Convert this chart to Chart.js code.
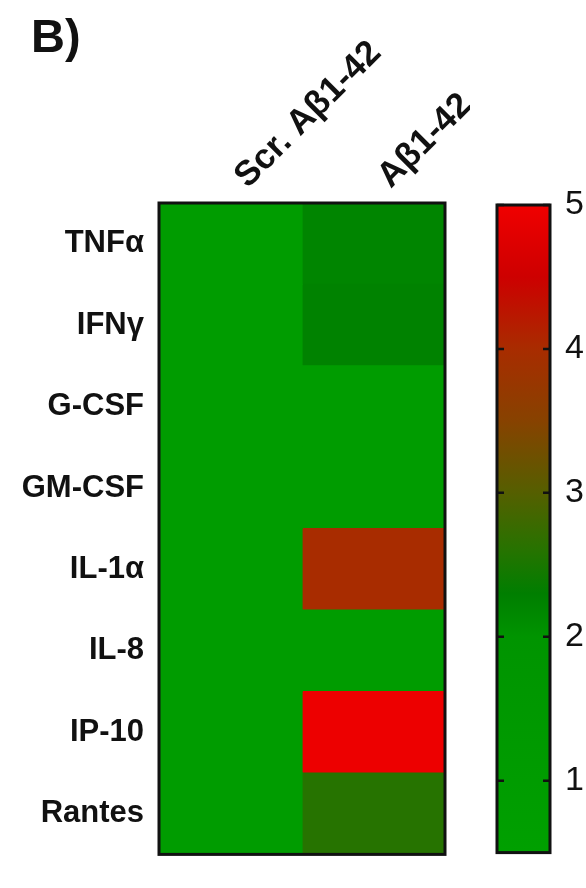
<!DOCTYPE html>
<html>
<head>
<meta charset="utf-8">
<script src="https://cdn.jsdelivr.net/npm/chart.js@4.4.1/dist/chart.umd.min.js"></script>
<style>
  body { margin: 0; background: #fff; }
  #wrap { position: relative; width: 586px; height: 888px; overflow: hidden; }
  #heat { position: absolute; left: 0; top: 0; }
  #bar { position: absolute; left: 480px; top: 0; }
  #panel { position: absolute; left: 31px; top: 8px; font: bold 47px "Liberation Sans", Arial, sans-serif; color: #111; }
</style>
</head>
<body>
<div id="wrap">
  <canvas id="heat" width="470" height="888"></canvas>
  <canvas id="bar" width="106" height="888"></canvas>
  <div id="panel">B)</div>
</div>
<script>
// cytokine rows, top to bottom
const cytokines = ['TNFα', 'IFNγ', 'G-CSF', 'GM-CSF', 'IL-1α', 'IL-8', 'IP-10', 'Rantes'];
const groups = ['Scr. Aβ1-42', 'Aβ1-42'];
const scrValues = [1, 1, 1, 1, 1, 1, 1, 1];
const abValues = [2.2, 2.25, 1, 1, 4.0, 1, 4.95, 2.6];
const scaleMin = 0.5;
const scaleMax = 5;
const scaleTicks = [1, 2, 3, 4, 5];

// green -> olive -> red colour map
const cmap = [
  [0.5, [0, 160, 0]],
  [2.0, [0, 148, 0]],
  [2.3, [0, 126, 0]],
  [2.6, [38, 115, 0]],
  [3.0, [85, 95, 0]],
  [3.5, [135, 66, 0]],
  [4.0, [168, 44, 0]],
  [4.5, [205, 0, 0]],
  [5.0, [240, 0, 0]]
];

function colorFor(v) {
  if (v <= cmap[0][0]) return 'rgb(' + cmap[0][1].join(',') + ')';
  for (let i = 1; i < cmap.length; i++) {
    if (v <= cmap[i][0]) {
      const [v0, c0] = cmap[i - 1];
      const [v1, c1] = cmap[i];
      const t = (v - v0) / (v1 - v0);
      const c = c0.map((a, k) => Math.round(a + (c1[k] - a) * t));
      return 'rgb(' + c.join(',') + ')';
    }
  }
  return 'rgb(' + cmap[cmap.length - 1][1].join(',') + ')';
}

const FONT = '"Liberation Sans", Arial, sans-serif';

const frame = {
  id: 'frame',
  afterDatasetsDraw(chart) {
    const a = chart.chartArea;
    const ctx = chart.ctx;
    ctx.save();
    ctx.strokeStyle = '#111';
    ctx.lineWidth = 3;
    ctx.strokeRect(a.left, a.top, a.right - a.left, a.bottom - a.top);
    ctx.restore();
  }
};

const columns = [scrValues, abValues];

new Chart(document.getElementById('heat'), {
  type: 'bar',
  data: {
    labels: cytokines,
    datasets: columns.map((vals, c) => ({
      label: groups[c],
      data: vals.map(() => [c, c + 1]),
      backgroundColor: vals.map(colorFor),
      borderWidth: 0,
      inflateAmount: 0.6,
      grouped: false,
      barPercentage: 1,
      categoryPercentage: 1
    }))
  },
  options: {
    indexAxis: 'y',
    responsive: false,
    animation: false,
    layout: { padding: { right: 25, bottom: 2, left: 0, top: 0 } },
    plugins: { legend: { display: false }, tooltip: { enabled: false } },
    scales: {
      x: { type: 'linear', min: 0, max: 2, display: false },
      xTop: {
        type: 'category',
        labels: groups,
        position: 'top',
        offset: true,
        grid: { display: false, drawTicks: false },
        border: { display: false },
        ticks: {
          minRotation: 45, maxRotation: 45, padding: 6, labelOffset: 40,
          color: '#111', font: { family: FONT, size: 35, weight: 'bold' }
        },
        afterFit(s) { s.height = 203; }
      },
      y: {
        grid: { display: false, drawTicks: false },
        border: { display: false },
        ticks: { padding: 15, color: '#111', font: { family: FONT, size: 31, weight: 'bold' } },
        afterFit(s) { s.width = 159; }
      }
    }
  },
  plugins: [frame]
});

const barTicks = {
  id: 'barTicks',
  afterDatasetsDraw(chart) {
    const a = chart.chartArea;
    const y = chart.scales.y;
    const ctx = chart.ctx;
    ctx.save();
    ctx.strokeStyle = '#111';
    ctx.lineWidth = 2.5;
    scaleTicks.forEach(t => {
      const py = y.getPixelForValue(t);
      ctx.beginPath();
      ctx.moveTo(a.left, py); ctx.lineTo(a.left + 7, py);
      ctx.moveTo(a.right - 7, py); ctx.lineTo(a.right, py);
      ctx.stroke();
    });
    ctx.restore();
  }
};

new Chart(document.getElementById('bar'), {
  type: 'bar',
  data: {
    labels: ['scale'],
    datasets: [{
      data: [[scaleMin, scaleMax]],
      borderWidth: 0,
      barPercentage: 1,
      categoryPercentage: 1,
      backgroundColor(ctx) {
        const chart = ctx.chart;
        if (!chart.chartArea) return colorFor(scaleMin);
        const y = chart.scales.y;
        const g = chart.ctx.createLinearGradient(0, y.getPixelForValue(scaleMin), 0, y.getPixelForValue(scaleMax));
        cmap.forEach(([v, c]) => {
          g.addColorStop((v - scaleMin) / (scaleMax - scaleMin), 'rgb(' + c.join(',') + ')');
        });
        return g;
      }
    }]
  },
  options: {
    responsive: false,
    animation: false,
    layout: { padding: { left: 17, top: 205, bottom: 2, right: 0 } },
    plugins: { legend: { display: false }, tooltip: { enabled: false } },
    scales: {
      x: { display: false },
      y: {
        position: 'right',
        min: scaleMin,
        max: scaleMax,
        afterBuildTicks(s) { s.ticks = scaleTicks.map(v => ({ value: v })); },
        grid: { display: false, drawTicks: false },
        border: { display: false },
        ticks: { padding: 15, color: '#111', font: { family: FONT, size: 34 } },
        afterFit(s) { s.width = 36; }
      }
    }
  },
  plugins: [frame, barTicks]
});
</script>
</body>
</html>
